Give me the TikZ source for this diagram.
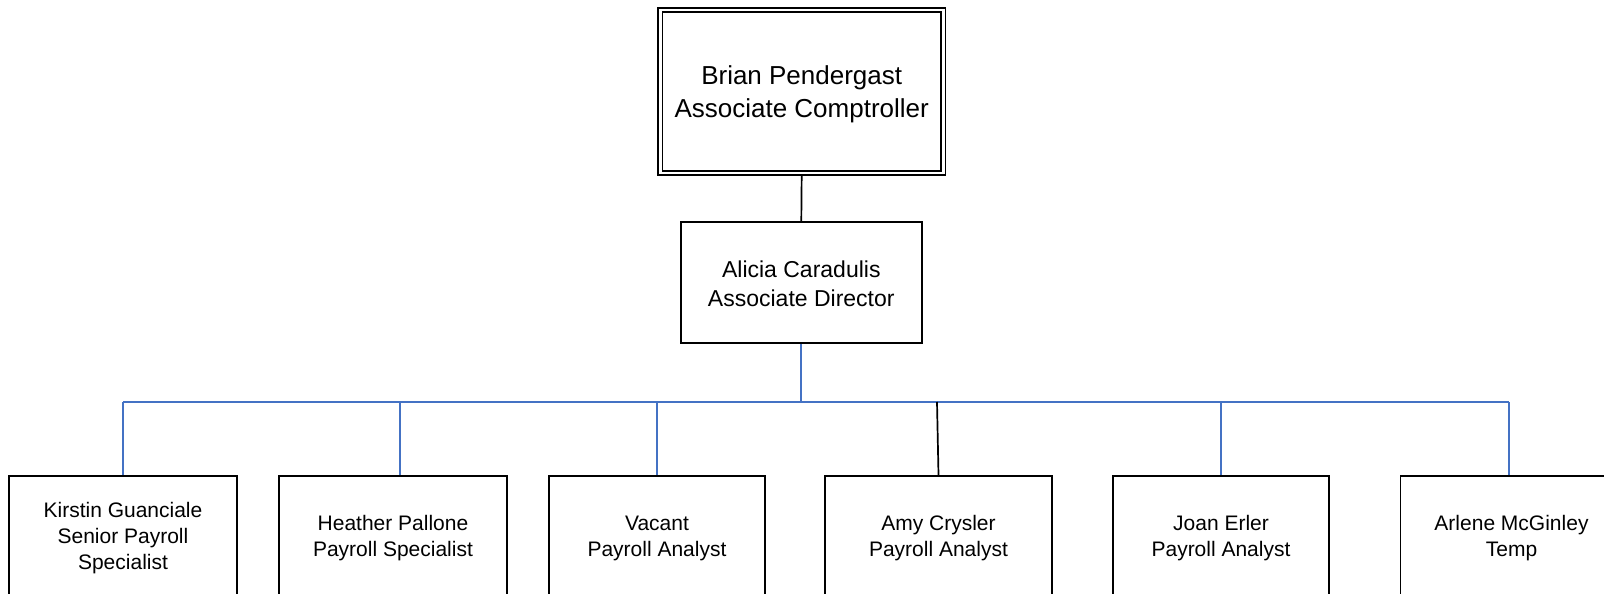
\documentclass[tikz,border=0pt]{standalone}
\usepackage{fontspec}
\setmainfont{Liberation Sans}
\usetikzlibrary{backgrounds}
\definecolor{conn}{HTML}{4472C4}
\newcommand\mylift[1]{\rule{0pt}{#1}}
\begin{document}
\begin{tikzpicture}[x=1pt,y=-1pt,
  box/.style={draw=black, fill=white, line width=1.8pt, align=center, inner sep=0pt},
  topbox/.style={box, double, double distance=2.6pt, line width=1.6pt, minimum width=283pt, minimum height=163pt, font=\fontsize{26}{33}\selectfont},
  midbox/.style={box, minimum width=241pt, minimum height=121pt, font=\fontsize{23}{29.5}\selectfont},
  leaf/.style={box, minimum height=120pt, font=\fontsize{21}{26}\selectfont},
  blueline/.style={draw=conn, line width=1.7pt},
  blackline/.style={draw=black, line width=1.7pt}]
\useasboundingbox (0,0) rectangle (1604,594);
\clip (0,0) rectangle (1604,594);
\node[topbox] (bp) at (801.7,91.5) {\mylift{24.5pt}Brian Pendergast\\Associate Comptroller};
\node[midbox] (ac) at (801.3,282.4) {\mylift{19pt}Alicia Caradulis\\Associate Director};
\node[leaf, minimum width=228pt] (k1) at (123,536) {\mylift{19.5pt}Kirstin Guanciale\\Senior Payroll\\Specialist};
\node[leaf, minimum width=228pt] (k2) at (393,536) {\mylift{19.5pt}Heather Pallone\\Payroll Specialist};
\node[leaf, minimum width=216pt] (k3) at (657,536) {\mylift{19.5pt}Vacant\\Payroll Analyst};
\node[leaf, minimum width=227pt] (k4) at (938.5,536) {\mylift{19.5pt}Amy Crysler\\Payroll Analyst};
\node[leaf, minimum width=216pt] (k5) at (1221,536) {\mylift{19.5pt}Joan Erler\\Payroll Analyst};
\node[leaf, minimum width=222pt] (k6) at (1511.5,536) {\mylift{19.5pt}Arlene McGinley\\Temp};
\coordinate (busL) at (123,402);
\coordinate (busR) at (1508.7,402);
\coordinate (d2) at (400,402);
\coordinate (d3) at (656.7,402);
\coordinate (d4) at (937,402);
\coordinate (d5) at (1220.7,402);
\begin{scope}[on background layer]
\draw[blackline] (bp.south) -- (ac.north);
\draw[blueline] (ac.south) -- (ac.south |- busL);
\draw[blueline] (busL) -- (busR);
\draw[blueline] (busL) -- (k1.north);
\draw[blueline] (d2) -- (d2 |- k2.north);
\draw[blueline] (d3) -- (d3 |- k3.north);
\draw[blackline] (d4) -- (k4.north);
\draw[blueline] (d5) -- (d5 |- k5.north);
\draw[blueline] (busR) -- (busR |- k6.north);
\end{scope}
\end{tikzpicture}
\end{document}
